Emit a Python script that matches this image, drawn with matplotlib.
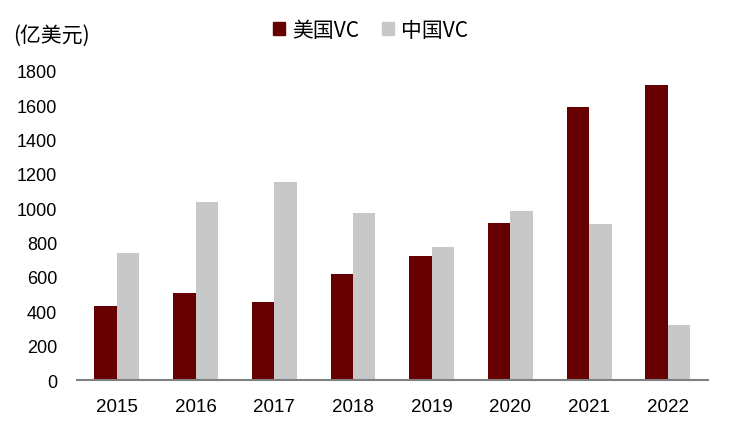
import numpy as np
import matplotlib.pyplot as plt
from matplotlib.patches import Patch

plt.rcParams['font.family'] = ['Liberation Sans', 'Noto Sans CJK SC', 'DejaVu Sans']

# Data
years = ['2015', '2016', '2017', '2018', '2019', '2020', '2021', '2022']
us_vc = [432, 508, 456, 619, 724, 917, 1589, 1717]
cn_vc = [742, 1034, 1156, 975, 777, 987, 911, 321]

us_color = '#660000'
cn_color = '#C8C8C8'

fig = plt.figure(figsize=(7.31, 4.31), dpi=100)
ax = fig.add_axes([0.105, 0.116, 0.8635, 0.717])

x = np.arange(len(years))
w = 0.285
ax.bar(x - w / 2, us_vc, width=w, color=us_color, label='美国VC')
ax.bar(x + w / 2, cn_vc, width=w, color=cn_color, label='中国VC')

ax.set_xlim(-0.51, len(years) - 0.49)
ax.set_ylim(0, 1800)
ax.set_yticks(range(0, 1801, 200))
ax.set_xticks(x)
ax.set_xticklabels(years, fontsize=13.5)
ax.tick_params(axis='both', length=0)
ax.tick_params(axis='y', labelsize=13, pad=14)
ax.tick_params(axis='x', pad=13)

for s in ['top', 'right', 'left']:
    ax.spines[s].set_visible(False)
ax.spines['bottom'].set_color('#808080')
ax.spines['bottom'].set_linewidth(1.5)

fig.text(0.018, 0.918, '(亿美元)', fontsize=15, va='center', ha='left',
         family=['Noto Sans CJK SC', 'DejaVu Sans'])

handles = [Patch(color=us_color), Patch(color=cn_color)]
fig.legend(handles, ['美国VC', '中国VC'], loc='center', bbox_to_anchor=(0.507, 0.928),
           ncol=2, frameon=False, handlelength=0.55, handleheight=0.55,
           handletextpad=0.35, columnspacing=1.1,
           prop={'family': ['Noto Sans CJK SC', 'DejaVu Sans'], 'size': 15})

fig.savefig('out.png', dpi=100)
